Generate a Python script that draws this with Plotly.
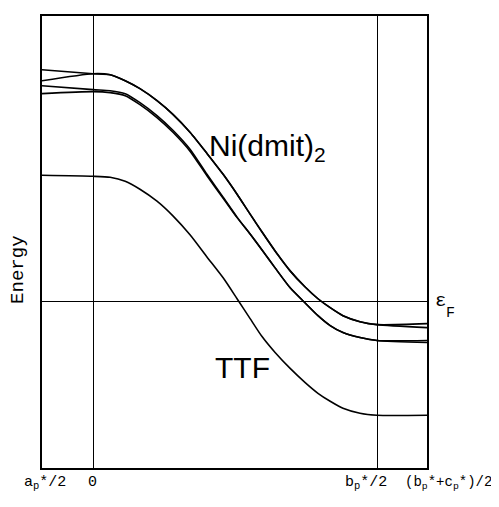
import plotly.graph_objects as go

# k-path positions (a*/2 -> 0 -> b*/2 -> (b*+c*)/2), in fractions of the 0 -> b*/2 segment
k_points = [-0.18, 0.0, 0.06, 0.113, 0.165, 0.225, 0.282, 0.342, 0.401, 0.458, 0.507,
            0.553, 0.595, 0.641, 0.694, 0.746, 0.792, 0.835, 0.880, 0.940, 1.0, 1.176]

# Ni(dmit)2 bands (energy, arbitrary units, E_F = 0)
ni_band_1 = [2.33, 2.29, 2.28, 2.22, 2.14, 2.02, 1.88, 1.70, 1.49, 1.28, 1.08,
             0.88, 0.70, 0.51, 0.31, 0.15, 0.03, -0.06, -0.14, -0.20, -0.23, -0.22]
ni_band_2 = [2.22, 2.29, 2.28, 2.22, 2.14, 2.02, 1.88, 1.70, 1.49, 1.28, 1.08,
             0.88, 0.70, 0.51, 0.31, 0.15, 0.03, -0.06, -0.14, -0.20, -0.23, -0.26]
ni_band_3 = [2.17, 2.13, 2.12, 2.09, 2.00, 1.87, 1.72, 1.53, 1.28, 1.05, 0.85,
             0.68, 0.52, 0.34, 0.14, -0.01, -0.14, -0.24, -0.31, -0.36, -0.39, -0.39]
ni_band_4 = [2.09, 2.11, 2.10, 2.07, 1.98, 1.85, 1.70, 1.51, 1.265, 1.04, 0.845,
             0.68, 0.52, 0.34, 0.14, -0.01, -0.14, -0.24, -0.31, -0.36, -0.39, -0.41]
# TTF band
ttf_band = [1.27, 1.26, 1.25, 1.21, 1.13, 1.01, 0.86, 0.67, 0.45, 0.24, 0.03,
            -0.17, -0.35, -0.51, -0.67, -0.81, -0.92, -1.00, -1.07, -1.12, -1.14, -1.14]

fermi_level = 0.0
tick_positions = [-0.18, 0.0, 1.0, 1.176]
tick_labels = ["a<sub>p</sub>*/2", "0", "b<sub>p</sub>*/2", "(b<sub>p</sub>*+c<sub>p</sub>*)/2"]
tick_label_shift = [3, -1, -11, 21]
tick_label_size = [15, 15, 15, 14]

# page body has an 8px margin: figure is made 8px smaller so the page is 499x507
OFF = 8
W, H = 499 - OFF, 507 - OFF
L, T, R, B = 42 - OFF, 14 - OFF, 72, 39

fig = go.Figure()
for band in [ni_band_1, ni_band_2, ni_band_3, ni_band_4, ttf_band]:
    fig.add_trace(go.Scatter(x=k_points, y=band, mode="lines",
                             line=dict(color="black", width=1.6, shape="spline", smoothing=0.6),
                             showlegend=False, hoverinfo="skip"))

mono = "Liberation Mono, Courier New, DejaVu Sans Mono, monospace"
sans = "Liberation Sans, Arial, Helvetica, sans-serif"

annotations = []
for pos, lab, sh, sz in zip(tick_positions, tick_labels, tick_label_shift, tick_label_size):
    annotations.append(dict(x=pos, y=0, xref="x", yref="paper", text=lab, showarrow=False,
                            xanchor="center", yanchor="top", xshift=sh, yshift=-4,
                            font=dict(family=mono, size=sz, color="black")))

def px(xp):
    return (xp - 42) / 385

def py(yp):
    return (468 - yp) / 454

annotations += [
    dict(x=px(207), y=py(146), xref="paper", yref="paper", text="Ni(dmit)<sub>2</sub>",
         showarrow=False, xanchor="left", yanchor="middle",
         font=dict(family=sans, size=30, color="black")),
    dict(x=px(243), y=py(367), xref="paper", yref="paper", text="TTF",
         showarrow=False, xanchor="center", yanchor="middle",
         font=dict(family=sans, size=30, color="black")),
    dict(x=px(18), y=py(269), xref="paper", yref="paper", text="Energy", textangle=-90,
         showarrow=False, xanchor="center", yanchor="middle",
         font=dict(family=mono, size=19, color="black")),
    dict(x=px(433), y=py(300), xref="paper", yref="paper", text="ε",
         showarrow=False, xanchor="left", yanchor="middle",
         font=dict(family=mono, size=19, color="black")),
    dict(x=px(444), y=py(313), xref="paper", yref="paper", text="F",
         showarrow=False, xanchor="left", yanchor="middle",
         font=dict(family=mono, size=15, color="black")),
]

fig.update_layout(
    width=W, height=H,
    margin=dict(l=L, r=R, t=T, b=B),
    paper_bgcolor="white", plot_bgcolor="white",
    annotations=annotations,
    xaxis=dict(range=[-0.18, 1.176], tickvals=[0.0, 1.0], showticklabels=False, ticks="",
               showgrid=True, gridcolor="black", gridwidth=1.3, zeroline=False,
               showline=True, linecolor="black", linewidth=1.8, mirror=True),
    yaxis=dict(range=[-1.67, 2.87], tickvals=[fermi_level], showticklabels=False, ticks="",
               showgrid=True, gridcolor="black", gridwidth=1.3, zeroline=False,
               showline=True, linecolor="black", linewidth=1.8, mirror=True),
)

fig.write_html("out.html")
